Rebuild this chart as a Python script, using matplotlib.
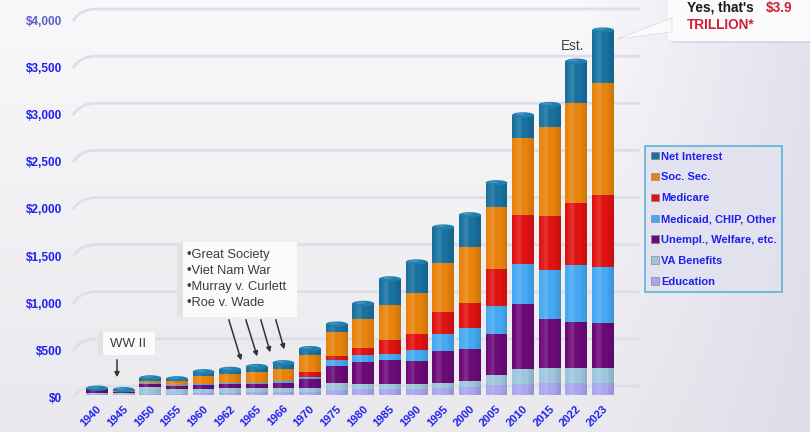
import numpy as np
import matplotlib
matplotlib.use("Agg")
import matplotlib.pyplot as plt
from matplotlib.patches import Ellipse, Rectangle, Polygon, FancyBboxPatch, PathPatch, Patch
from matplotlib.path import Path
from matplotlib.transforms import offset_copy

plt.rcParams["font.family"] = ["Liberation Sans", "DejaVu Sans"]

# ---- data (billions of dollars) ----
years = ["1940", "1945", "1950", "1955", "1960", "1962", "1965", "1966", "1970", "1975",
         "1980", "1985", "1990", "1995", "2000", "2005", "2010", "2015", "2022", "2023"]

education = [10, 5, 15, 15, 20, 25, 30, 35, 35, 50, 60, 65, 65, 70, 80, 110, 120, 130, 130, 130]
va_benefits = [10, 20, 75, 45, 45, 45, 40, 40, 40, 75, 55, 55, 55, 60, 70, 100, 160, 160, 160, 160]
unempl_welfare = [40, 10, 30, 40, 45, 50, 50, 55, 90, 180, 235, 255, 245, 340, 340, 435, 690, 520, 480, 470]
medicaid_other = [5, 0, 5, 5, 5, 5, 10, 15, 30, 65, 75, 65, 115, 180, 225, 300, 425, 520, 605, 595]
medicare = [0, 0, 0, 0, 0, 0, 0, 5, 45, 45, 75, 140, 170, 235, 265, 395, 510, 565, 660, 765]
social_security = [5, 5, 25, 45, 85, 100, 115, 130, 180, 250, 310, 370, 435, 520, 585, 650, 820, 945, 1065, 1190]
net_interest = [30, 45, 60, 50, 75, 75, 85, 90, 100, 115, 190, 310, 355, 405, 375, 290, 275, 270, 470, 590]

y_ticks = [0, 500, 1000, 1500, 2000, 2500, 3000, 3500, 4000]

series = [
    ("Education", education, "#a9a6ee"),
    ("VA Benefits", va_benefits, "#9ec6da"),
    ("Unempl., Welfare, etc.", unempl_welfare, "#6c0a78"),
    ("Medicaid, CHIP, Other", medicaid_other, "#45a8f2"),
    ("Medicare", medicare, "#e01212"),
    ("Soc. Sec.", social_security, "#e8830c"),
    ("Net Interest", net_interest, "#18719f"),
]

W, H = 810, 432
fig = plt.figure(figsize=(W / 100, H / 100), dpi=100)


def fx(px):
    return px / W


def fy(py):
    return 1 - py / H


# ---- soft background ----
bg = fig.add_axes([0, 0, 1, 1], zorder=-10)
yy, xx = np.mgrid[0:1:216j, 0:1:405j]
top_c = np.array([0.975, 0.975, 0.985])
bot_c = np.array([0.915, 0.915, 0.93])
img = top_c * (1 - yy[..., None]) + bot_c * yy[..., None]
tint = np.clip((xx - 0.72) / 0.28, 0, 1)[..., None]
lav = np.array([0.85, 0.85, 0.91])
img = img * (1 - 0.7 * tint) + lav * 0.7 * tint
bg.imshow(img, extent=[0, 1, 0, 1], aspect="auto", origin="upper")
bg.axis("off")

# ---- main axes ----
ax = fig.add_axes([fx(80), fy(395), fx(560), 4190 * 0.09425 / H])
ax.set_xlim(-0.64, 20.39)
ax.set_ylim(0, 4190)
ax.patch.set_alpha(0)
for s in ax.spines.values():
    s.set_visible(False)
ax.set_xticks([])
ax.set_yticks([])

# back-wall grid lines with a curved left end
fig.canvas.draw()
for v in y_ticks:
    gy = H - (ax.transData.transform((0, v))[1]) - 9  # top-left pixel row
    verts = [(73, gy + 12), (80, gy), (96, gy), (640, gy)]
    codes = [Path.MOVETO, Path.CURVE3, Path.CURVE3, Path.LINETO]
    disp = [(x, H - y) for x, y in verts]
    pp = PathPatch(Path(disp, codes), transform=None, facecolor="none",
                   edgecolor="#dedeea", lw=2.0, zorder=0)
    fig.add_artist(pp)

# y labels
ylab_tr = offset_copy(ax.get_yaxis_transform(), fig=fig, x=0, y=-4, units="dots")
for v in y_ticks:
    col = "#5c5cc8" if v == 4000 else "#1f1ff2"
    ax.text(-0.032, v, f"${v:,}", transform=ylab_tr, ha="right", va="center",
            fontsize=8.5, fontweight="bold", color=col, clip_on=False)

# stacked cylinders
x = np.arange(len(years))
bw = 0.82
totals = np.sum([s[1] for s in series], axis=0)
cap_h = 56
bottom = np.zeros(len(years))
for name, vals, col in series:
    vals = np.array(vals, dtype=float)
    h = vals.copy()
    if name == "Net Interest":
        h = np.maximum(vals - cap_h / 2, 0)
    ax.bar(x, h, bw, bottom=bottom, color=col, edgecolor="none", zorder=2)
    bottom = bottom + vals

# rounded tops
for i, t in enumerate(totals):
    ax.add_patch(Ellipse((x[i], t - cap_h / 2), bw, cap_h, facecolor="#1f7fb0",
                         edgecolor="none", zorder=3))
    ax.add_patch(Ellipse((x[i] - 0.1, t - cap_h / 2 + 8), bw * 0.45, cap_h * 0.45,
                         facecolor="white", alpha=0.15, edgecolor="none", zorder=3))

# cylinder shading: soft graded strips
body = totals - cap_h / 2
for off, wdt, a in [(-0.18, 0.26, 0.06), (-0.15, 0.14, 0.07)]:
    ax.bar(x + off, body, wdt, color="white", alpha=a, edgecolor="none", zorder=2.5)
for off, wdt, a in [(0.30, 0.22, 0.05), (0.36, 0.10, 0.05)]:
    ax.bar(x + off, body, wdt, color="black", alpha=a, edgecolor="none", zorder=2.5)

# x labels
xlab_tr = offset_copy(ax.transData, fig=fig, x=3, y=-12, units="dots")
for i, yr in enumerate(years):
    ax.text(x[i], 0, yr, transform=xlab_tr, rotation=45, rotation_mode="anchor",
            ha="right", va="center", fontsize=8, fontweight="bold", color="#1f1ff2",
            clip_on=False)

# ---- legend ----
handles = [Patch(facecolor=c, edgecolor="#7a7a8a", linewidth=0.4) for _, _, c in series][::-1]
labels = [n for n, _, _ in series][::-1]
leg = fig.legend(handles, labels, loc="upper left", bbox_to_anchor=(fx(645), fy(146)),
                 frameon=True, fancybox=False, fontsize=8.0, labelspacing=0.98,
                 handlelength=0.8, handleheight=0.65, handletextpad=0.15,
                 borderpad=0.5, borderaxespad=0)
leg.get_frame().set_edgecolor("#38a4d8")
leg.get_frame().set_linewidth(1.2)
leg.get_frame().set_facecolor("#e2e2ef")
for t in leg.get_texts():
    t.set_color("#1f1ff2")
    t.set_fontweight("bold")

# ---- annotations ----
txt_col = "#3c3c3c"
# WW II
fig.add_artist(Rectangle((fx(98), fy(355)), fx(57), 23 / H, transform=fig.transFigure,
                         facecolor="#fbfbfb", edgecolor="none", zorder=4))
fig.add_artist(Rectangle((fx(98), fy(355)), fx(5), 23 / H, transform=fig.transFigure,
                         facecolor="#e2e2e2", edgecolor="none", zorder=4))
fig.text(fx(110), fy(344), "WW II", fontsize=9.5, color=txt_col, ha="left", va="center",
         zorder=5)
ax.annotate("", xy=(fx(117), fy(380)), xytext=(fx(117), fy(357)), xycoords="figure fraction",
            textcoords="figure fraction",
            arrowprops=dict(arrowstyle="-|>", color="#333333", lw=1.1, mutation_scale=7))

# 1960s events
fig.add_artist(Rectangle((fx(177), fy(317)), fx(120), 75 / H, transform=fig.transFigure,
                         facecolor="#fbfbfb", edgecolor="none", zorder=4))
fig.add_artist(Rectangle((fx(177), fy(317)), fx(6), 75 / H, transform=fig.transFigure,
                         facecolor="#e2e2e2", edgecolor="none", zorder=4))
events = ["•Great Society", "•Viet Nam War", "•Murray v. Curlett", "•Roe v. Wade"]
for k, e in enumerate(events):
    fig.text(fx(187), fy(255 + 16 * k), e, fontsize=9.3, color=txt_col, ha="left",
             va="center", zorder=5)
arrows = [((228, 317), (242, 363)), ((245, 317), (258, 359)),
          ((260, 317), (271, 355)), ((275, 317), (285, 352))]
for (x0, y0), (x1, y1) in arrows:
    ax.annotate("", xy=(fx(x1), fy(y1)), xytext=(fx(x0), fy(y0)), xycoords="figure fraction",
                textcoords="figure fraction",
                arrowprops=dict(arrowstyle="-|>", color="#333333", lw=1.1, mutation_scale=7))

# estimate marker
fig.text(fx(573), fy(46), "Est.", fontsize=9.8, color="#444444", ha="center", va="center")

# callout
fig.add_artist(FancyBboxPatch((fx(670), fy(43)), fx(150), 60 / H, transform=fig.transFigure,
                              boxstyle="round,pad=0,rounding_size=0.008",
                              facecolor="#cfcfd8", edgecolor="none", alpha=0.6, zorder=4))
fig.add_artist(FancyBboxPatch((fx(668), fy(41)), fx(150), 60 / H, transform=fig.transFigure,
                              boxstyle="round,pad=0,rounding_size=0.008",
                              facecolor="#fbfbfb", edgecolor="none", zorder=4))
fig.add_artist(Polygon([(fx(617), fy(39)), (fx(672), fy(18)), (fx(672), fy(32))],
                       closed=True, transform=fig.transFigure, facecolor="#fbfbfb",
                       edgecolor="#dcdce4", lw=0.6, zorder=4))
fig.text(fx(687), fy(8), "Yes, that's", fontsize=9.8, fontweight="bold", color="#1a1a1a",
         ha="left", va="center", zorder=5)
fig.text(fx(766), fy(8), "$3.9", fontsize=9.8, fontweight="bold", color="#d0203a",
         ha="left", va="center", zorder=5)
fig.text(fx(687), fy(25), "TRILLION*", fontsize=9.8, fontweight="bold", color="#d0203a",
         ha="left", va="center", zorder=5)

fig.savefig("out.png", dpi=100)
